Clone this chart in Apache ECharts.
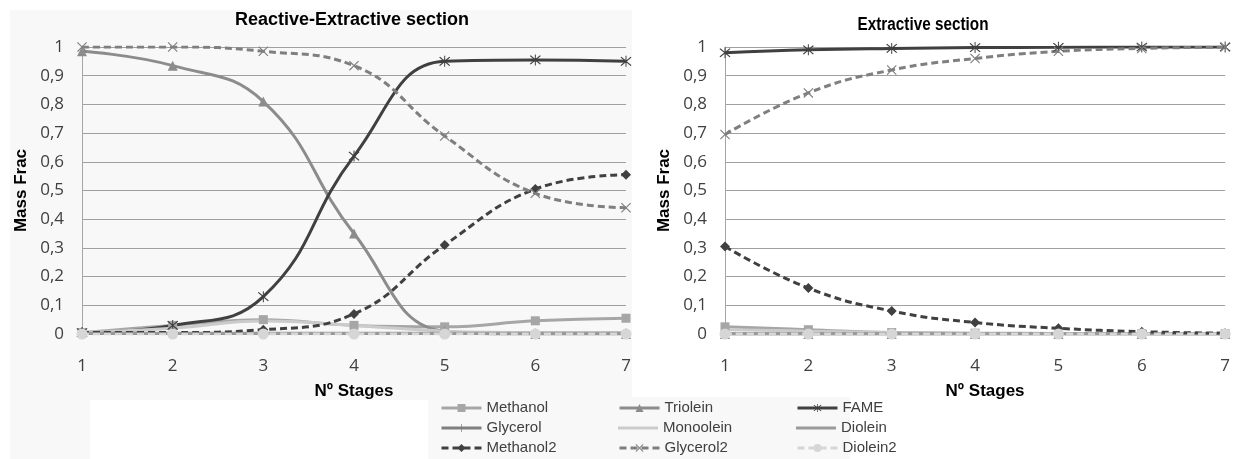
<!DOCTYPE html>
<html>
<head>
<meta charset="utf-8">
<script src="https://cdn.jsdelivr.net/npm/echarts@6/dist/echarts.min.js"></script>
<style>html,body{margin:0;padding:0;background:#fff}#c{width:1233px;height:459px}</style>
</head>
<body>
<div id="c"></div>
<script>
// ---- data ----
const stages = ['1', '2', '3', '4', '5', '6', '7'];
const seriesNames = ['Methanol', 'Triolein', 'FAME', 'Glycerol', 'Monoolein', 'Diolein', 'Methanol2', 'Glycerol2', 'Diolein2'];

// Reactive-Extractive section
const reMethanol  = [0.005, 0.03, 0.05, 0.03, 0.025, 0.046, 0.055];
const reTriolein  = [0.985, 0.935, 0.81, 0.35, 0.01, 0, 0];
const reFAME      = [0.005, 0.03, 0.13, 0.62, 0.95, 0.955, 0.95];
const reGlycerol  = [0.002, 0.002, 0.002, 0.002, 0.002, 0.002, 0.002];
const reMonoolein = [0.005, 0.02, 0.045, 0.03, 0.01, 0.005, 0.005];
const reDiolein   = [0.003, 0.003, 0.003, 0.003, 0.003, 0.003, 0.003];
const reMethanol2 = [0.005, 0.005, 0.015, 0.07, 0.31, 0.505, 0.555];
const reGlycerol2 = [1.0, 1.0, 0.985, 0.935, 0.69, 0.49, 0.44];
const reDiolein2  = [0, 0, 0, 0, 0, 0, 0];

// Extractive section
const exMethanol  = [0.025, 0.015, 0.005, 0.003, 0.002, 0.001, 0.001];
const exTriolein  = [0, 0, 0, 0, 0, 0, 0];
const exFAME      = [0.98, 0.99, 0.995, 0.998, 0.999, 1.0, 1.0];
const exGlycerol  = [0.001, 0.001, 0.001, 0.001, 0.001, 0.001, 0.001];
const exMonoolein = [0.015, 0.01, 0.004, 0.002, 0.001, 0, 0];
const exDiolein   = [0.002, 0.002, 0.002, 0.002, 0.002, 0.002, 0.002];
const exMethanol2 = [0.305, 0.16, 0.08, 0.04, 0.02, 0.008, 0.003];
const exGlycerol2 = [0.695, 0.84, 0.92, 0.96, 0.985, 0.995, 1.0];
const exDiolein2  = [0, 0, 0, 0, 0, 0, 0];

// legend layout: [name, column, row]
const legendItems = [
  ['Methanol', 0, 0], ['Triolein', 1, 0], ['FAME', 2, 0],
  ['Glycerol', 0, 1], ['Monoolein', 1, 1], ['Diolein', 2, 1],
  ['Methanol2', 0, 2], ['Glycerol2', 1, 2], ['Diolein2', 2, 2]
];

// ---- styles ----
const P_X = 'path://M0,0.8 L0.8,0 L10,9.2 L9.2,10 Z M9.2,0 L10,0.8 L0.8,10 L0,9.2 Z';
const P_AST = 'path://M0,0.8 L0.8,0 L10,9.2 L9.2,10 Z M9.2,0 L10,0.8 L0.8,10 L0,9.2 Z M4.55,-1 L5.45,-1 L5.45,11 L4.55,11 Z';
const P_PLUS = 'path://M4.55,0 L5.45,0 L5.45,10 L4.55,10 Z M0,4.55 L10,4.55 L10,5.45 L0,5.45 Z';
const styles = {
  Methanol:  {color: '#a6a6a6', symbol: 'rect', size: 9, type: 'solid'},
  Triolein:  {color: '#8c8c8c', symbol: 'triangle', size: 10, type: 'solid'},
  FAME:      {color: '#404040', symbol: P_AST, size: 11, type: 'solid'},
  Glycerol:  {color: '#7f7f7f', symbol: P_PLUS, size: 10, type: 'solid'},
  Monoolein: {color: '#cbcbcb', symbol: 'none', size: 0, type: 'solid'},
  Diolein:   {color: '#9a9a9a', symbol: 'none', size: 0, type: 'solid'},
  Methanol2: {color: '#404040', symbol: 'diamond', size: 10, type: [7, 4]},
  Glycerol2: {color: '#7f7f7f', symbol: P_X, size: 10, type: [7, 4]},
  Diolein2:  {color: '#d6d6d6', symbol: 'circle', size: 11, type: [7, 4]}
};

const reData = [reMethanol, reTriolein, reFAME, reGlycerol, reMonoolein, reDiolein, reMethanol2, reGlycerol2, reDiolein2];
const exData = [exMethanol, exTriolein, exFAME, exGlycerol, exMonoolein, exDiolein, exMethanol2, exGlycerol2, exDiolein2];

function mkSeries(name, data, idx) {
  const s = styles[name];
  return {
    name: name, type: 'line', data: data,
    xAxisIndex: idx, yAxisIndex: idx,
    smooth: 0.45,
    symbol: s.symbol === 'none' ? 'circle' : s.symbol, symbolSize: s.size, showSymbol: s.symbol !== 'none',
    lineStyle: {color: s.color, width: 3, type: s.type},
    itemStyle: {color: s.color},
    emphasis: {disabled: true},
    animation: false
  };
}
const series = [];
seriesNames.forEach((n, i) => series.push(mkSeries(n, reData[i], 0)));
seriesNames.forEach((n, i) => series.push(mkSeries(n, exData[i], 1)));

const tickFont = {fontFamily: 'Open Sans', fontSize: 17, color: '#404040'};
const boldFont = 'Liberation Sans';
function yAxis(gi) {
  return {
    type: 'value', gridIndex: gi, min: 0, max: 1, interval: 0.1,
    axisLine: {show: true, lineStyle: {color: '#a6a6a6', width: 1}},
    axisTick: {show: false},
    splitLine: {lineStyle: {color: '#a0a0a0', width: 1}},
    axisLabel: Object.assign({margin: 18, formatter: v => String(Math.round(v * 10) / 10).replace('.', ',')}, tickFont),
    name: 'Mass Frac', nameLocation: 'middle', nameGap: 52,
    nameTextStyle: {fontFamily: boldFont, fontWeight: 'bold', fontSize: 17, color: '#000'}
  };
}
function xAxis(gi, pad) {
  return {
    type: 'category', gridIndex: gi, data: stages, boundaryGap: false,
    axisLine: {show: true, lineStyle: {color: '#a6a6a6', width: 1}},
    axisTick: {show: false},
    splitLine: {show: false},
    axisLabel: Object.assign({margin: 24}, tickFont),
    name: 'Nº Stages', nameLocation: 'middle', nameGap: 49,
    nameTextStyle: {fontFamily: boldFont, fontWeight: 'bold', fontSize: 17, color: '#000', padding: pad}
  };
}

const colX = [440, 618, 796];
const rowY = [400, 420, 440];
const legends = legendItems.map(([name, c, r]) => {
  const noMark = styles[name].symbol === 'none';
  return {
    orient: 'horizontal', left: colX[c], top: rowY[r], padding: 0,
    itemWidth: 40, itemHeight: noMark ? 3 : 10, itemGap: 0,
    selectedMode: false,
    lineStyle: {width: 3},
    data: [noMark ? {name: name, icon: 'rect'} : name],
    textStyle: {fontFamily: 'Liberation Sans', fontSize: 15, color: '#404040', lineHeight: 16}
  };
});

const chart = echarts.init(document.getElementById('c'), null, {renderer: 'canvas'});
chart.setOption({
  animation: false,
  backgroundColor: '#ffffff',
  graphic: [
    {type: 'rect', z: -10, silent: true, shape: {x: 10, y: 10, width: 622, height: 449}, style: {fill: '#f8f8f8'}},
    {type: 'rect', z: -9, silent: true, shape: {x: 90, y: 400, width: 340, height: 59}, style: {fill: '#ffffff'}},
    {type: 'rect', z: -9, silent: true, shape: {x: 428, y: 397, width: 422, height: 62}, style: {fill: '#f8f8f8'}},
    {type: 'text', x: 352, y: 20, silent: true,
     style: {text: 'Reactive-Extractive section', fill: '#000', font: 'bold 18px "Liberation Sans"', textAlign: 'center', textVerticalAlign: 'middle'}},
    {type: 'text', x: 923, y: 25, scaleX: 0.85, silent: true,
     style: {text: 'Extractive section', fill: '#000', font: 'bold 18px "Liberation Sans"', textAlign: 'center', textVerticalAlign: 'middle'}}
  ],
  legend: legends,
  grid: [
    {left: 82, top: 47, width: 544, height: 287},
    {left: 725, top: 47, width: 507, height: 287}
  ],
  xAxis: [xAxis(0, [0, 0, 0, 0]), xAxis(1, [0, 0, 0, 20])],
  yAxis: [yAxis(0), yAxis(1)],
  series: series
});
</script>
</body>
</html>
